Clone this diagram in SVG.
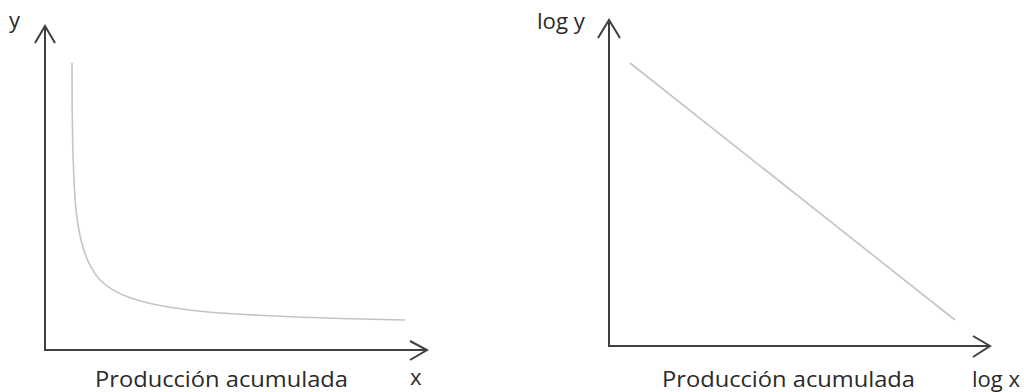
<svg xmlns="http://www.w3.org/2000/svg" width="1024" height="392" viewBox="0 0 1024 392">
<style>
.axis{fill:none;stroke:#3f3f3f;stroke-width:2;stroke-linejoin:miter}
.curve{fill:none;stroke:#c4c4c4;stroke-width:1.6}
.lbl{font-family:"Open Sans","Liberation Sans",sans-serif;font-size:22px;fill:#2a2a2a}
</style>
<rect width="1024" height="392" fill="#ffffff"/>
<g id="left-chart">
<path class="axis" d="M45,27 V350 H426"/>
<path class="axis" d="M35,43 L45,26 L55,43"/>
<path class="axis" d="M410,341 L427,350 L410,360"/>
<path class="curve" d="M72,63 C72,200 74,250 100,280 C130,310 200,316 405,320"/>
<text class="lbl" x="9" y="28">y</text>
<text class="lbl" x="95" y="387" textLength="253" lengthAdjust="spacingAndGlyphs">Producción acumulada</text>
<text class="lbl" x="410" y="385">x</text>
</g>
<g id="right-chart">
<path class="axis" d="M609,21 V346 H989"/>
<path class="axis" d="M598,38 L609,20 L620,38"/>
<path class="axis" d="M973,336 L990,346 L973,357"/>
<path class="curve" d="M630,63 L955,320"/>
<text class="lbl" x="537" y="29" textLength="48" lengthAdjust="spacingAndGlyphs">log y</text>
<text class="lbl" x="662" y="387" textLength="253" lengthAdjust="spacingAndGlyphs">Producción acumulada</text>
<text class="lbl" x="972" y="387" textLength="48" lengthAdjust="spacingAndGlyphs">log x</text>
</g>
</svg>
